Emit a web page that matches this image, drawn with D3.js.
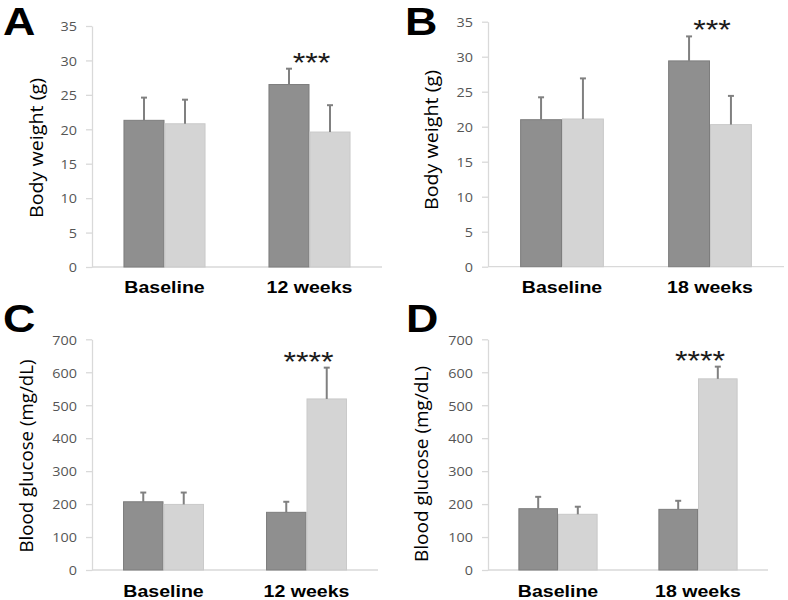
<!DOCTYPE html>
<html>
<head>
<meta charset="utf-8">
<script src="https://cdn.jsdelivr.net/npm/d3@7"></script>
<style>
  html, body { margin: 0; padding: 0; background: #ffffff; }
  svg { display: block; }
</style>
</head>
<body>
<svg id="chart" width="788" height="600"></svg>
<script>
// ---------------- DATA ----------------
const panelLetters = ["A", "B", "C", "D"];
const categoriesA = ["Baseline", "12 weeks"];
const categoriesB = ["Baseline", "18 weeks"];
const categoriesC = ["Baseline", "12 weeks"];
const categoriesD = ["Baseline", "18 weeks"];

const weightTicks = [0, 5, 10, 15, 20, 25, 30, 35];
const glucoseTicks = [0, 100, 200, 300, 400, 500, 600, 700];

const weightLabel = "Body weight (g)";
const glucoseLabel = "Blood glucose (mg/dL)";

// Panel A: body weight, 12 weeks
const darkA = [21.3, 26.5];
const darkErrA = [3.3, 2.3];
const lightA = [20.8, 19.6];
const lightErrA = [3.5, 3.9];
const starsA = ["", "***"];

// Panel B: body weight, 18 weeks
const darkB = [21.0, 29.4];
const darkErrB = [3.2, 3.5];
const lightB = [21.1, 20.3];
const lightErrB = [5.8, 4.1];
const starsB = ["", "***"];

// Panel C: blood glucose, 12 weeks
const darkC = [207, 175];
const darkErrC = [28, 32];
const lightC = [199, 519];
const lightErrC = [36, 95];
const starsC = ["", "****"];

// Panel D: blood glucose, 18 weeks
const darkD = [186, 184];
const darkErrD = [36, 26];
const lightD = [169, 580];
const lightErrD = [23, 37];
const starsD = ["", "****"];

// ---------------- LAYOUT ----------------
const SX = 1.15; // horizontal stretch of the original figure's text
const COL_DARK = "#8f8f8f", COL_DARK_EDGE = "#7d7d7d";
const COL_LIGHT = "#d4d4d4", COL_LIGHT_EDGE = "#c9c9c9";
const COL_ERR = "#808080";
const COL_AXIS = "#d9d9d9";

const panels = [
  { letter: panelLetters[0], cats: categoriesA, dark: darkA, darkErr: darkErrA, light: lightA, lightErr: lightErrA, stars: starsA,
    ticks: weightTicks, label: weightLabel,
    x0: 92, x1: 382, yTop: 26, yBot: 267, letterX: 3, letterY: 35, labelX: 43, labelY: 148, labelLen: 140, catY: 293 },
  { letter: panelLetters[1], cats: categoriesB, dark: darkB, darkErr: darkErrB, light: lightB, lightErr: lightErrB, stars: starsB,
    ticks: weightTicks, label: weightLabel,
    x0: 488, x1: 784, yTop: 21.7, yBot: 266.7, letterX: 405, letterY: 35, labelX: 438, labelY: 140, labelLen: 140, catY: 293 },
  { letter: panelLetters[2], cats: categoriesC, dark: darkC, darkErr: darkErrC, light: lightC, lightErr: lightErrC, stars: starsC,
    ticks: glucoseTicks, label: glucoseLabel,
    x0: 92, x1: 378, yTop: 339.3, yBot: 570, letterX: 3, letterY: 332, labelX: 33, labelY: 456, labelLen: 193, catY: 596.5 },
  { letter: panelLetters[3], cats: categoriesD, dark: darkD, darkErr: darkErrD, light: lightD, lightErr: lightErrD, stars: starsD,
    ticks: glucoseTicks, label: glucoseLabel,
    x0: 488, x1: 768, yTop: 339.3, yBot: 570, letterX: 406, letterY: 332, labelX: 428, labelY: 464, labelLen: 196, catY: 596.5 }
];

const svg = d3.select("#chart");

function stretchedText(g, x, y, txt) {
  return g.append("text")
    .attr("transform", `translate(${x},${y}) scale(${SX},1)`)
    .text(txt);
}

panels.forEach(p => {
  const g = svg.append("g");
  const yMax = p.ticks[p.ticks.length - 1];
  const y = d3.scaleLinear().domain([0, yMax]).range([p.yBot, p.yTop]);
  const x = d3.scaleBand().domain(p.cats).range([p.x0, p.x1]).paddingInner(0.434).paddingOuter(0.217);
  const sub = d3.scaleBand().domain(["dark", "light"]).range([0, x.bandwidth()]).padding(0);

  // y axis
  const yAxis = d3.axisLeft(y).tickValues(p.ticks).tickSize(6).tickSizeOuter(0).tickPadding(0);
  const ag = g.append("g").attr("transform", `translate(${p.x0},0)`).call(yAxis);
  ag.select(".domain").attr("stroke", COL_AXIS).attr("stroke-width", 1.3);
  ag.selectAll(".tick line").attr("stroke", COL_AXIS).attr("stroke-width", 1.3);
  ag.selectAll(".tick text")
    .attr("x", null).attr("dy", null)
    .attr("transform", `translate(-15,4.8) scale(${SX},1)`)
    .attr("fill", "#555555")
    .attr("font-family", "'Open Sans', 'Noto Sans', sans-serif")
    .attr("font-size", 12.5)
    .attr("text-anchor", "end");

  // x axis line
  g.append("line")
    .attr("x1", p.x0).attr("x2", p.x1)
    .attr("y1", y(0)).attr("y2", y(0))
    .attr("stroke", COL_AXIS).attr("stroke-width", 1.3);

  // bars
  const rows = [];
  p.cats.forEach((c, i) => {
    rows.push({ cat: c, s: "dark", v: p.dark[i], e: p.darkErr[i] });
    rows.push({ cat: c, s: "light", v: p.light[i], e: p.lightErr[i] });
  });

  g.selectAll("rect.bar").data(rows).enter().append("rect")
    .attr("class", "bar")
    .attr("x", d => x(d.cat) + sub(d.s) + 0.5)
    .attr("width", sub.bandwidth() - 1)
    .attr("y", d => y(d.v))
    .attr("height", d => y(0) - y(d.v))
    .attr("fill", d => d.s === "dark" ? COL_DARK : COL_LIGHT)
    .attr("stroke", d => d.s === "dark" ? COL_DARK_EDGE : COL_LIGHT_EDGE)
    .attr("stroke-width", 1);

  // error bars
  const eg = g.selectAll("g.err").data(rows).enter().append("g").attr("class", "err");
  eg.append("line")
    .attr("x1", d => x(d.cat) + sub(d.s) + sub.bandwidth() / 2)
    .attr("x2", d => x(d.cat) + sub(d.s) + sub.bandwidth() / 2)
    .attr("y1", d => y(d.v))
    .attr("y2", d => y(d.v + d.e))
    .attr("stroke", COL_ERR).attr("stroke-width", 2);
  eg.append("line")
    .attr("x1", d => x(d.cat) + sub(d.s) + sub.bandwidth() / 2 - 3)
    .attr("x2", d => x(d.cat) + sub(d.s) + sub.bandwidth() / 2 + 3)
    .attr("y1", d => y(d.v + d.e))
    .attr("y2", d => y(d.v + d.e))
    .attr("stroke", COL_ERR).attr("stroke-width", 2);

  // significance stars
  p.cats.forEach((c, i) => {
    if (!p.stars[i]) return;
    const top = Math.max(p.dark[i] + p.darkErr[i], p.light[i] + p.lightErr[i]);
    stretchedText(g, x(c) + x.bandwidth() / 2 + 2, y(top) + 3, p.stars[i])
      .attr("text-anchor", "middle")
      .attr("font-family", "'Liberation Sans', Arial, sans-serif")
      .attr("font-size", 28)
      .attr("fill", "#1a1a1a");
  });

  // category labels
  p.cats.forEach(c => {
    stretchedText(g, x(c) + x.bandwidth() / 2, p.catY, c)
      .attr("text-anchor", "middle")
      .attr("font-family", "'Liberation Sans', Arial, sans-serif")
      .attr("font-weight", "bold")
      .attr("font-size", 17)
      .attr("fill", "#000");
  });

  // y label
  g.append("text")
    .attr("transform", `translate(${p.labelX},${p.labelY}) scale(${SX},1) rotate(-90)`)
    .attr("text-anchor", "middle")
    .attr("font-family", "'Open Sans', 'Noto Sans', sans-serif")
    .attr("font-size", 16.5)
    .attr("textLength", p.labelLen)
    .attr("lengthAdjust", "spacingAndGlyphs")
    .attr("fill", "#000")
    .text(p.label);

  // panel letter
  stretchedText(g, p.letterX, p.letterY, p.letter)
    .attr("text-anchor", "start")
    .attr("font-family", "'Liberation Sans', Arial, sans-serif")
    .attr("font-weight", "bold")
    .attr("font-size", 39)
    .attr("fill", "#000");
});
</script>
</body>
</html>
